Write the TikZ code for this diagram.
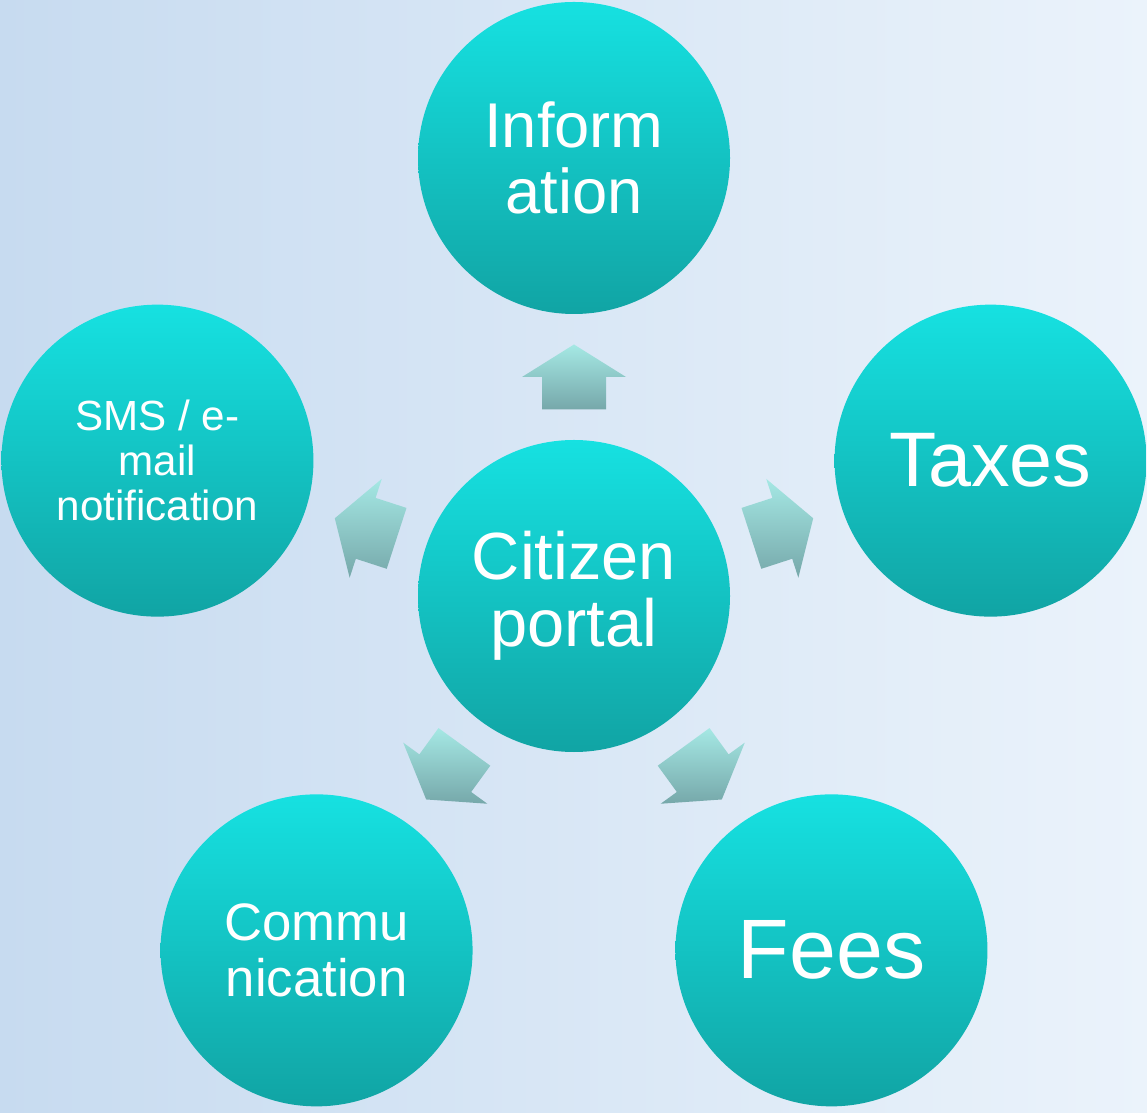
\documentclass[tikz,border=0pt]{standalone}
\usepackage{fontspec}
\setmainfont{Liberation Sans}
\usepackage{tikz}
\usetikzlibrary{calc,positioning}

\definecolor{bgleft}{RGB}{199,219,240}
\definecolor{bgright}{RGB}{235,243,251}
\definecolor{ballTop}{RGB}{22,225,225}
\definecolor{ballBottom}{RGB}{17,164,164}
\definecolor{arrTop}{RGB}{165,232,228}
\definecolor{arrBottom}{RGB}{118,168,170}

\tikzset{
    bubble/.style={circle, minimum size=3.12cm, inner sep=0pt, align=center, text=white,
        top color=ballTop, bottom color=ballBottom},
    blockarrow/.style={top color=arrTop, bottom color=arrBottom, draw=none}
}

\begin{document}
\begin{tikzpicture}
    \shade[left color=bgleft, right color=bgright] (-5.74,5.96) rectangle (5.73,-5.16); % background

    \node[bubble, font=\fontsize{19}{19}\selectfont] (portal) at (0,0) {Citizen\\portal}; % central node

    \node[bubble, font=\fontsize{18}{19}\selectfont] (info) at (90:4.38) {Inform\\ation};
    \node[bubble, font=\fontsize{22}{22}\selectfont] (taxes) at (18:4.38) {Taxes};
    \node[bubble, font=\fontsize{24}{24}\selectfont] (fees) at (-54:4.38) {Fees};
    \node[bubble, font=\fontsize{15}{16}\selectfont] (comm) at (234:4.38) {Commu\\nication};
    \node[bubble, font=\fontsize{12}{12.8}\selectfont] (sms) at (162:4.38) {SMS / e-\\mail\\notification};

    \foreach \k in {info,taxes,fees,comm,sms} {
        \coordinate (m-\k) at ($(portal)!0.5!(\k)$); % middle of the gap
        \shade[blockarrow] let \p1=($(\k)-(portal)$), \n1={atan2(\y1,\x1)} in
            ($(m-\k)+(\n1:0.325)$) -- ($(m-\k)+({\n1+90}:0.52)$) -- ($(m-\k)+({\n1+90}:0.32)$)
            -- ($(m-\k)+({\n1+180}:0.325)+({\n1+90}:0.32)$) -- ($(m-\k)+({\n1+180}:0.325)+({\n1-90}:0.32)$)
            -- ($(m-\k)+({\n1-90}:0.32)$) -- ($(m-\k)+({\n1-90}:0.52)$) -- cycle;
    }
\end{tikzpicture}
\end{document}
